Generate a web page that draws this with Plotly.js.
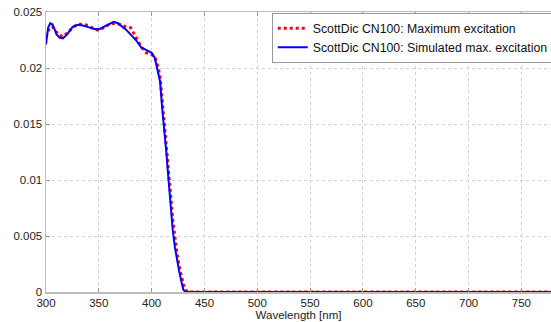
<!DOCTYPE html>
<html>
<head>
<meta charset="utf-8">
<script src="https://cdn.plot.ly/plotly-3.0.1.min.js"></script>
<style>html,body{margin:0;padding:0;background:#fff;}#chart{width:551px;height:322px;}</style>
</head>
<body>
<div id="chart"></div>
<script>
// Measured maximum excitation (red dotted)
const measWl = [300,303,306,309,313,316,320,325,330,335,340,345,350,355,360,365,370,375,380,385,390,395,400,403,406,408,410,412,414,416,418,420,422,424,426,428,430,432,434,450,500,550,600,650,700,750,780];
const measVal = [0.0228,0.0235,0.0237,0.0233,0.0229,0.0228,0.0231,0.0236,0.0239,0.0239,0.0238,0.0235,0.02335,0.0236,0.0239,0.0240,0.0239,0.0237,0.0236,0.0228,0.0219,0.02135,0.0212,0.0210,0.0201,0.0192,0.0172,0.0152,0.0132,0.0109,0.0086,0.0064,0.0047,0.0034,0.0023,0.0014,0.0007,0.0002,0,0,0,0,0,0,0,0,0];

// Simulated maximum excitation (blue solid)
const simWl = [300,302,304,306,308,310,313,316,320,325,330,335,340,345,350,355,360,364,368,372,376,380,385,390,395,400,403,406,408,410,412,414,416,418,420,422,424,426,428,430,432,450,500,550,600,650,700,750,780];
const simVal = [0.0221,0.0236,0.0240,0.0239,0.0235,0.0230,0.0227,0.02265,0.0230,0.02365,0.02385,0.0238,0.02365,0.0235,0.02345,0.0237,0.0240,0.02413,0.0240,0.0237,0.0234,0.0230,0.0225,0.02185,0.0216,0.02135,0.0209,0.0198,0.0188,0.0164,0.0145,0.0124,0.0100,0.0076,0.0055,0.0040,0.0028,0.0019,0.0010,0.0002,0,0,0,0,0,0,0,0,0];

const names = ["ScottDic CN100: Maximum excitation", "ScottDic CN100: Simulated max. excitation"];
const xTicks = [300,350,400,450,500,550,600,650,700,750];
const yTicks = [0,0.005,0.01,0.015,0.02,0.025];
const yTickText = ["0","0.005","0.01","0.015","0.02","0.025"];

const traces = [
  {x: measWl, y: measVal, name: names[0], mode: "lines",
   line: {color: "#ff0000", width: 3, dash: "dot"}},
  {x: simWl, y: simVal, name: names[1], mode: "lines",
   line: {color: "#0000ff", width: 2}}
];

const layout = {
  width: 551, height: 322,
  margin: {l: 46, r: 0, t: 12, b: 30, pad: 0, autoexpand: false},
  paper_bgcolor: "#fff", plot_bgcolor: "#fff",
  font: {family: "Liberation Sans, Arial, sans-serif", size: 11, color: "#222"},
  showlegend: true,
  legend: {x: 0.447, y: 0.997, xanchor: "left", yanchor: "top",
    bgcolor: "#fff", bordercolor: "#999", borderwidth: 1,
    font: {size: 12.3, color: "#111"}, tracegroupgap: 0, itemwidth: 30},
  xaxis: {range: [300, 778], tickvals: xTicks, ticks: "inside", ticklen: 4,
    tickcolor: "#999", showline: true, linecolor: "#bbb", linewidth: 1.5, mirror: "ticks",
    showgrid: true, gridcolor: "#d0d0d0", griddash: "dot", zeroline: false,
    title: {text: "Wavelength [nm]", standoff: 2, font: {size: 11.5, color: "#222"}},
    tickfont: {size: 11.5, color: "#222"}},
  yaxis: {range: [0, 0.025], tickvals: yTicks, ticktext: yTickText, ticks: "inside", ticklen: 4,
    tickcolor: "#999", showline: true, linecolor: "#bbb", linewidth: 1.5, mirror: false,
    showgrid: true, gridcolor: "#d0d0d0", griddash: "dot", zeroline: false,
    tickfont: {size: 11.5, color: "#222"}}
};

Plotly.newPlot("chart", traces, layout, {staticPlot: true, displayModeBar: false});
</script>
</body>
</html>
